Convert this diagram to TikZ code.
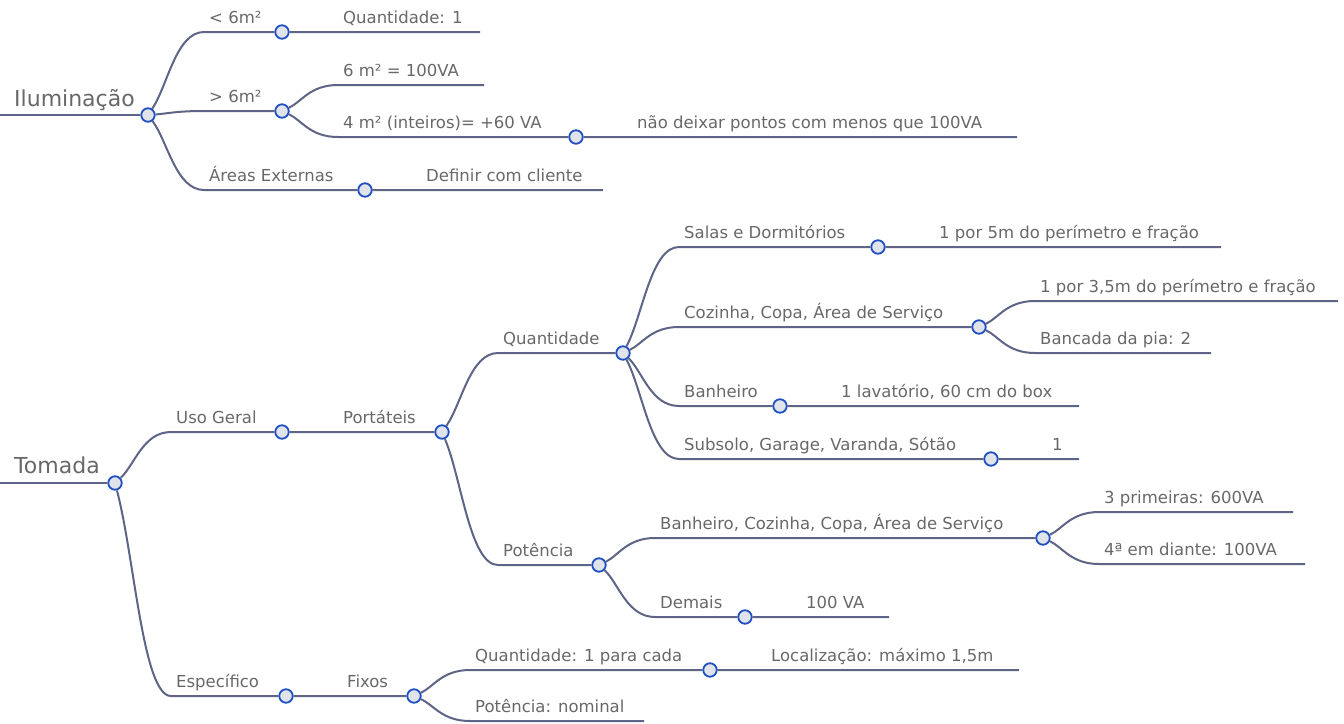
\documentclass[tikz,border=0pt]{standalone}
\usepackage{fontspec}
\setmainfont{DejaVu Sans}
\usepackage{xcolor}
\usetikzlibrary{calc}

\definecolor{linkgray}{HTML}{5D6485}
\definecolor{txtgray}{HTML}{686868}
\definecolor{hubblue}{HTML}{1F4FC2}
\definecolor{hubfill}{HTML}{E0E3EA}

\tikzset{
  link/.style={draw=linkgray,line width=2pt},
  hub/.style={circle,draw=hubblue,fill=hubfill,line width=1.8pt,inner sep=0pt,minimum size=13.5pt},
  txt/.style={anchor=base west,inner sep=0pt,text=txtgray,font=\fontsize{16.5}{20}\selectfont},
  root/.style={txt,font=\fontsize{22}{26}\selectfont},
  curve/.style={to path={.. controls ($(\tikztostart)!0.35!(\tikztotarget)$)
      and ($(\tikztotarget)!0.5!(\tikztotarget -| \tikztostart)$) .. (\tikztotarget)}}
}

\begin{document}
\begin{tikzpicture}[x=1pt,y=-1pt]
  \useasboundingbox (0,0) rectangle (1344,723);

  % Iluminacao
  \coordinate (ilu0) at (0,115);
  \node[hub] (ilu) at (148,115) {};
  \draw[link] (ilu0) -- (ilu);
  \node[root] (tilu) at ($(ilu0)+(14,-9)$) {Iluminação};

  \coordinate (lt6) at (204,32);
  \node[hub] (lt6h) at (282,32) {};
  \coordinate (qtd1) at (480,32);
  \draw[link] (ilu) to[curve] (lt6) -- (lt6h) -- (qtd1);
  \node[txt] (tlt6) at ($(lt6)+(5,-9)$) {< 6m²};
  \node[txt] (tqtd1) at ($(lt6h)+(61,-9)$) {Quantidade: 1};

  \coordinate (gt6) at (204,111);
  \node[hub] (gt6h) at (282,111) {};
  \draw[link] (ilu) to[curve] (gt6) -- (gt6h);
  \node[txt] (tgt6) at ($(gt6)+(5,-9)$) {> 6m²};

  \coordinate (m6) at (338,85);
  \coordinate (m6e) at (484,85);
  \draw[link] (gt6h) to[curve] (m6) -- (m6e);
  \node[txt] (tm6) at ($(m6)+(5,-9)$) {6 m² = 100VA};

  \coordinate (m4) at (338,137);
  \node[hub] (m4h) at (576,137) {};
  \coordinate (npm) at (1017,137);
  \draw[link] (gt6h) to[curve] (m4) -- (m4h) -- (npm);
  \node[txt] (tm4) at ($(m4)+(5,-9)$) {4 m² (inteiros)= +60 VA};
  \node[txt] (tnpm) at ($(m4h)+(61,-9)$) {não deixar pontos com menos que 100VA};

  \coordinate (ext) at (204,190);
  \node[hub] (exth) at (365,190) {};
  \coordinate (dcc) at (603,190);
  \draw[link] (ilu) to[curve] (ext) -- (exth) -- (dcc);
  \node[txt] (text) at ($(ext)+(5,-9)$) {Áreas Externas};
  \node[txt] (tdcc) at ($(exth)+(61,-9)$) {Definir com cliente};

  % Tomada
  \coordinate (tom0) at (0,483);
  \node[hub] (tom) at (115,483) {};
  \draw[link] (tom0) -- (tom);
  \node[root] (ttom) at ($(tom0)+(14,-10)$) {Tomada};

  \coordinate (uso) at (171,432);
  \node[hub] (usoh) at (282,432) {};
  \node[hub] (port) at (442,432) {};
  \draw[link] (tom) to[curve] (uso) -- (usoh) -- (port);
  \node[txt] (tuso) at ($(uso)+(5,-9)$) {Uso Geral};
  \node[txt] (tport) at ($(usoh)+(61,-9)$) {Portáteis};

  \coordinate (qtd) at (498,353);
  \node[hub] (qtdh) at (623,353) {};
  \draw[link] (port) to[curve] (qtd) -- (qtdh);
  \node[txt] (tqtd) at ($(qtd)+(5,-9)$) {Quantidade};

  \coordinate (sal) at (679,247);
  \node[hub] (salh) at (878,247) {};
  \coordinate (sale) at (1221,247);
  \draw[link] (qtdh) to[curve] (sal) -- (salh) -- (sale);
  \node[txt] (tsal) at ($(sal)+(5,-9)$) {Salas e Dormitórios};
  \node[txt] (tsale) at ($(salh)+(61,-9)$) {1 por 5m do perímetro e fração};

  \coordinate (coz) at (679,327);
  \node[hub] (cozh) at (979,327) {};
  \draw[link] (qtdh) to[curve] (coz) -- (cozh);
  \node[txt] (tcoz) at ($(coz)+(5,-9)$) {Cozinha, Copa, Área de Serviço};

  \coordinate (per) at (1035,301);
  \coordinate (pere) at (1338,301);
  \draw[link] (cozh) to[curve] (per) -- (pere);
  \node[txt] (tper) at ($(per)+(5,-9)$) {1 por 3,5m do perímetro e fração};

  \coordinate (pia) at (1035,353);
  \coordinate (piae) at (1211,353);
  \draw[link] (cozh) to[curve] (pia) -- (piae);
  \node[txt] (tpia) at ($(pia)+(5,-9)$) {Bancada da pia: 2};

  \coordinate (ban) at (679,406);
  \node[hub] (banh) at (780,406) {};
  \coordinate (bane) at (1079,406);
  \draw[link] (qtdh) to[curve] (ban) -- (banh) -- (bane);
  \node[txt] (tban) at ($(ban)+(5,-9)$) {Banheiro};
  \node[txt] (tbane) at ($(banh)+(61,-9)$) {1 lavatório, 60 cm do box};

  \coordinate (sub) at (679,459);
  \node[hub] (subh) at (991,459) {};
  \coordinate (sube) at (1079,459);
  \draw[link] (qtdh) to[curve] (sub) -- (subh) -- (sube);
  \node[txt] (tsub) at ($(sub)+(5,-9)$) {Subsolo, Garage, Varanda, Sótão};
  \node[txt] (tsube) at ($(subh)+(61,-9)$) {1};

  \coordinate (pot) at (498,565);
  \node[hub] (poth) at (599,565) {};
  \draw[link] (port) to[curve] (pot) -- (poth);
  \node[txt] (tpot) at ($(pot)+(5,-9)$) {Potência};

  \coordinate (bcc) at (655,538);
  \node[hub] (bcch) at (1043,538) {};
  \draw[link] (poth) to[curve] (bcc) -- (bcch);
  \node[txt] (tbcc) at ($(bcc)+(5,-9)$) {Banheiro, Cozinha, Copa, Área de Serviço};

  \coordinate (pri) at (1099,512);
  \coordinate (prie) at (1293,512);
  \draw[link] (bcch) to[curve] (pri) -- (prie);
  \node[txt] (tpri) at ($(pri)+(5,-9)$) {3 primeiras: 600VA};

  \coordinate (qua) at (1099,564);
  \coordinate (quae) at (1305,564);
  \draw[link] (bcch) to[curve] (qua) -- (quae);
  \node[txt] (tqua) at ($(qua)+(5,-9)$) {4ª em diante: 100VA};

  \coordinate (dem) at (655,617);
  \node[hub] (demh) at (745,617) {};
  \coordinate (deme) at (889,617);
  \draw[link] (poth) to[curve] (dem) -- (demh) -- (deme);
  \node[txt] (tdem) at ($(dem)+(5,-9)$) {Demais};
  \node[txt] (tdeme) at ($(demh)+(61,-9)$) {100 VA};

  \coordinate (esp) at (171,696);
  \node[hub] (esph) at (286,696) {};
  \node[hub] (fix) at (414,696) {};
  \draw[link] (tom) to[curve] (esp) -- (esph) -- (fix);
  \node[txt] (tesp) at ($(esp)+(5,-9)$) {Específico};
  \node[txt] (tfix) at ($(esph)+(61,-9)$) {Fixos};

  \coordinate (cad) at (470,670);
  \node[hub] (cadh) at (710,670) {};
  \coordinate (cade) at (1019,670);
  \draw[link] (fix) to[curve] (cad) -- (cadh) -- (cade);
  \node[txt] (tcad) at ($(cad)+(5,-9)$) {Quantidade: 1 para cada};
  \node[txt] (tcade) at ($(cadh)+(61,-9)$) {Localização: máximo 1,5m};

  \coordinate (nom) at (470,721);
  \coordinate (nome) at (644,721);
  \draw[link] (fix) to[curve] (nom) -- (nome);
  \node[txt] (tnom) at ($(nom)+(5,-9)$) {Potência: nominal};
\end{tikzpicture}
\end{document}
